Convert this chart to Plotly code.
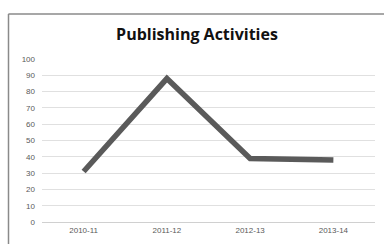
import plotly.graph_objects as go

categories = ["2010-11", "2011-12", "2012-13", "2013-14"]
values = [31, 88, 39, 38]
y_ticks = [0, 10, 20, 30, 40, 50, 60, 70, 80, 90, 100]

L, R, T, B = 42, 9, 59, 17
W, H = 384, 244
pw, ph = W - L - R, H - T - B

fig = go.Figure(go.Scatter(
    x=categories, y=values, mode="lines",
    line=dict(color="#5a5a5a", width=5.5),
))

def px_to_paper_x(px):
    return (px - L) / pw

def px_to_paper_y(py):
    return (H - B - py) / ph

# outer chart border (top and left edges visible)
fig.add_shape(type="line", xref="paper", yref="paper",
              x0=px_to_paper_x(8.5), x1=px_to_paper_x(390),
              y0=px_to_paper_y(12.5), y1=px_to_paper_y(12.5),
              line=dict(color="#8a8a8a", width=1.5), layer="below")
fig.add_shape(type="line", xref="paper", yref="paper",
              x0=px_to_paper_x(8.5), x1=px_to_paper_x(8.5),
              y0=px_to_paper_y(12.5), y1=px_to_paper_y(250),
              line=dict(color="#8a8a8a", width=1.5), layer="below")

fig.update_layout(
    width=W, height=H,
    margin=dict(l=L, r=R, t=T, b=B),
    paper_bgcolor="white", plot_bgcolor="white",
    showlegend=False,
    title=dict(text="<b>Publishing Activities</b>", x=px_to_paper_x(197), xref="paper",
               xanchor="center", y=1 - 34 / H, yanchor="middle",
               font=dict(family="Open Sans", size=16, color="#111111")),
    xaxis=dict(type="category", range=[-0.5, 3.5], showgrid=False, showline=True,
               linecolor="#d0d0d0", linewidth=1,
               ticks="", tickfont=dict(family="Liberation Sans", size=8, color="#595959"),
               zeroline=False),
    yaxis=dict(range=[0, 100], tickvals=y_ticks, showgrid=True, gridcolor="#e0e0e0",
               gridwidth=1, zeroline=False, showline=False, ticks="",
               tickfont=dict(family="Liberation Sans", size=8, color="#595959"),
               ticklabelstandoff=6),
)

fig.write_html("out.html", config={"displayModeBar": False},
               post_script="document.body.style.margin='0';document.body.style.overflow='hidden';")
